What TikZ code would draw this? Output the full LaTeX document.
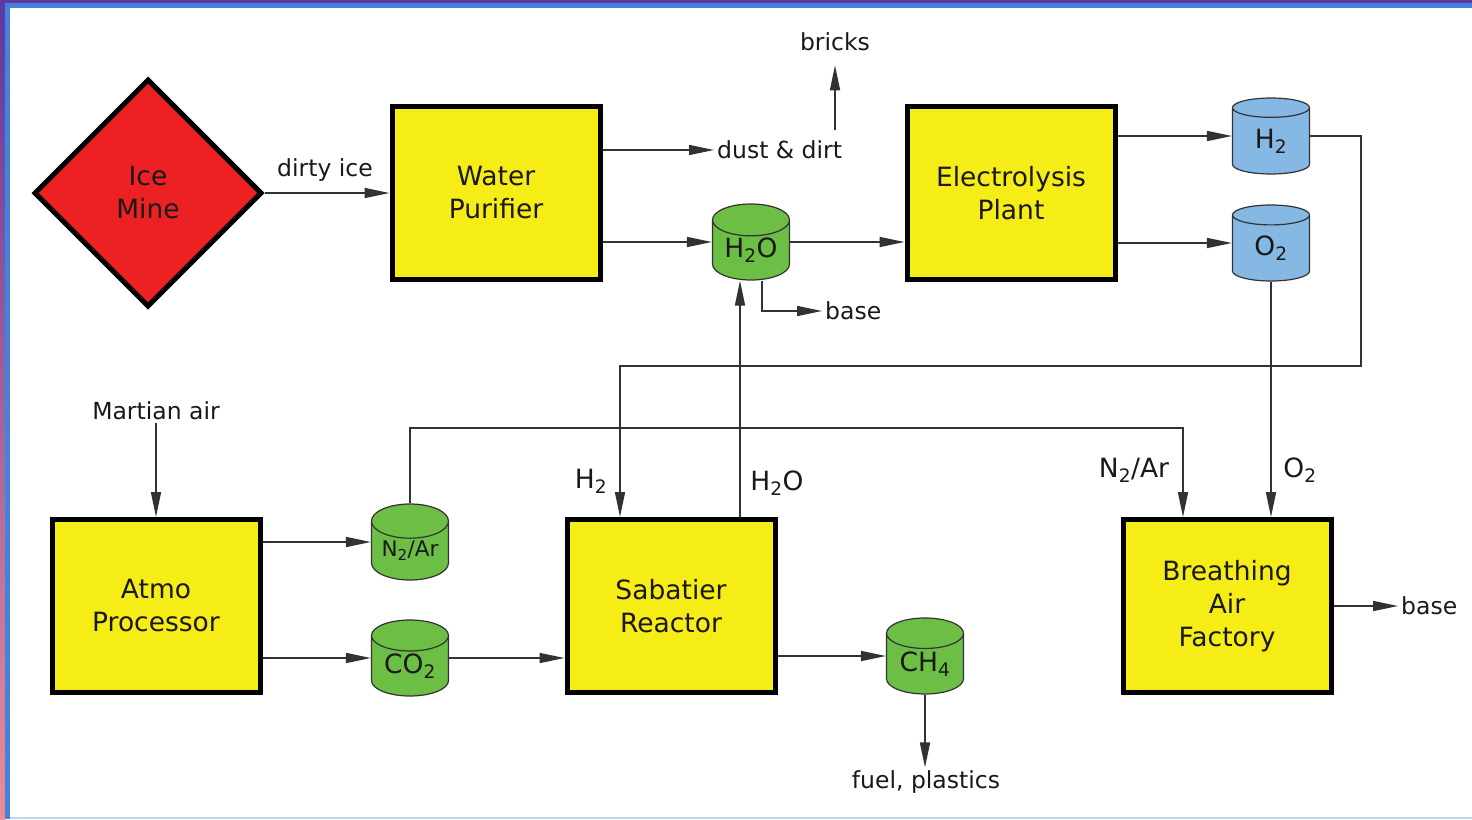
\documentclass[tikz,border=0pt]{standalone}
\usepackage{fontspec}
\setmainfont{DejaVu Sans}
\usepackage{tikz}
\usetikzlibrary{shapes.geometric, arrows.meta}
\definecolor{minered}{RGB}{237, 32, 36}
\definecolor{plantyellow}{RGB}{246, 236, 22}
\definecolor{tankgreen}{RGB}{108, 190, 69}
\definecolor{tankblue}{RGB}{134, 184, 228}
\definecolor{framepurple}{RGB}{92, 56, 160}
\definecolor{framepink}{RGB}{236, 140, 150}
\definecolor{frameblue}{RGB}{70, 130, 218}
\definecolor{framelight}{RGB}{190, 215, 240}
\definecolor{ink}{RGB}{25, 25, 25}
\definecolor{pipegray}{RGB}{50, 50, 50}
\newcommand{\bigfont}{\fontsize{26.5}{33}\selectfont}
\newcommand{\tagfont}{\fontsize{23.5}{28}\selectfont}
\newcommand{\midfont}{\fontsize{21.5}{26}\selectfont}
\tikzset{
  plant/.style={draw=black, line width=5pt, fill=plantyellow, minimum width=208pt,
    minimum height=173pt, inner sep=0pt, align=center, font=\bigfont, text=ink},
  mine/.style={diamond, draw=black, line width=5pt, fill=minered, minimum width=228pt,
    minimum height=228pt, inner sep=0pt, align=center, font=\bigfont, text=ink},
  tank/.style={cylinder, shape border rotate=90, aspect=0.6, draw=black!80,
    line width=1.2pt, minimum width=77pt, minimum height=76pt, inner sep=0pt,
    font=\bigfont, text=ink, anchor=shape center},
  flow/.style={draw=pipegray, line width=1.6pt, -{Triangle[length=25pt, width=10pt]}},
  tag/.style={font=\tagfont, text=ink, inner sep=3pt},
  chem/.style={font=\bigfont, text=ink, inner sep=2pt}
}

\begin{document}
\begin{tikzpicture}[x=1pt, y=-1pt]

  \useasboundingbox (0, 0) rectangle (1472, 819);
  % frame
  \fill[white] (0, 0) rectangle (1472, 819);
  \shade[top color=framepurple, bottom color=framepink] (0, 0) rectangle (5, 819);
  \fill[framepurple] (0, 0) rectangle (1472, 3);
  \fill[frameblue] (5, 3) rectangle (1472, 8);
  \fill[frameblue] (5, 3) rectangle (10, 819);
  \fill[framelight] (10, 817) rectangle (1472, 819);

  % plants
  \node[mine] (mine) at (148, 193) {Ice\\Mine};
  \node[plant] (wp) at (496, 193) {Water\\Purifier};
  \node[plant] (ep) at (1011, 193) {Electrolysis\\Plant};
  \node[plant] (atmo) at (156, 606) {Atmo\\Processor};
  \node[plant] (sab) at (671, 606) {Sabatier\\Reactor};
  \node[plant] (baf) at (1227, 606) {Breathing\\Air\\Factory};

  % tanks
  \node[tank, fill=tankgreen] (h2o) at (751, 242) {H\textsubscript{2}O};
  \node[tank, fill=tankblue] (h2) at (1271, 136) {H\textsubscript{2}};
  \node[tank, fill=tankblue] (o2) at (1271, 243) {O\textsubscript{2}};
  \node[tank, fill=tankgreen, font=\midfont] (n2ar) at (410, 542) {N\textsubscript{2}/Ar};
  \node[tank, fill=tankgreen] (co2) at (410, 658) {CO\textsubscript{2}};
  \node[tank, fill=tankgreen] (ch4) at (925, 656) {CH\textsubscript{4}};

  % labels
  \node[tag] (dirty) at (325, 170) {dirty ice};
  \node[tag, anchor=west] (dust) at (714, 150) {dust \& dirt};
  \node[tag] (bricks) at (835, 42) {bricks};
  \node[tag, anchor=west] (base1) at (822, 311) {base};
  \node[tag, anchor=west] (base2) at (1398, 606) {base};
  \node[tag] (mair) at (156, 411) {Martian air};
  \node[tag] (fuel) at (926, 782) {fuel, plastics};
  \node[chem] (lblh2) at (591, 481) {H\textsubscript{2}};
  \node[chem] (lblh2o) at (777, 483) {H\textsubscript{2}O};
  \node[chem] (lbln2) at (1134, 470) {N\textsubscript{2}/Ar};
  \node[chem] (lblo2) at (1300, 470) {O\textsubscript{2}};

  \coordinate (h2turn) at (1361, 366);
  \coordinate (n2turn) at (1183, 428);

  % flows
  \draw[flow] (mine.east) -- (wp.west);
  \draw[flow] (wp.east |- dust.west) -- (dust.west);
  \draw[flow, shorten >=11pt] ([yshift=8pt]dust.north -| bricks.south) -- (bricks.south);
  \draw[flow] (wp.east |- h2o.shape center) -- (h2o.shape center -| h2o.west);
  \draw[flow] (h2o.shape center -| h2o.east) -- (ep.west |- h2o.shape center);
  \draw[flow] ([xshift=11pt]h2o.south) |- (base1.west);
  \draw[flow] (ep.east |- h2.shape center) -- (h2.shape center -| h2.west);
  \draw[flow] (ep.east |- o2.shape center) -- (o2.shape center -| o2.west);
  \draw[flow] (h2.shape center -| h2.east) -| (h2turn) -| ([xshift=-51pt]sab.north);
  \draw[flow] ([xshift=69pt]sab.north) -- ([xshift=69pt]sab.north |- h2o.south);
  \draw[flow] (o2.south) -- (o2.south |- baf.north);
  \draw[flow] (n2ar.north) |- (n2turn) -- (n2turn |- baf.north);
  \draw[flow] (mair) -- (atmo.north);
  \draw[flow] (atmo.east |- n2ar.shape center) -- (n2ar.shape center -| n2ar.west);
  \draw[flow] (atmo.east |- co2.shape center) -- (co2.shape center -| co2.west);
  \draw[flow] (co2.shape center -| co2.east) -- (sab.west |- co2.shape center);
  \draw[flow] (sab.east |- ch4.shape center) -- (ch4.shape center -| ch4.west);
  \draw[flow] (ch4.south) -- (ch4.south |- fuel.north);
  \draw[flow] (baf.east) -- (base2.west);

\end{tikzpicture}
\end{document}
